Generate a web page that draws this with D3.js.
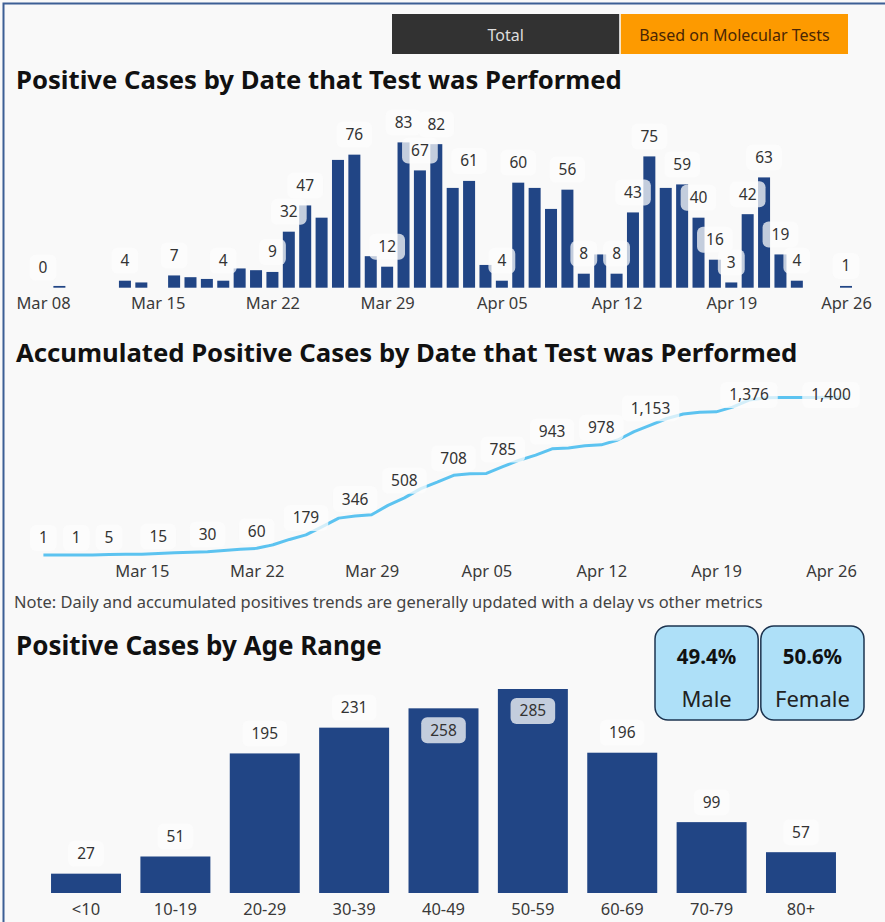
<!DOCTYPE html>
<html>
<head>
<meta charset="utf-8">
<script src="https://cdn.jsdelivr.net/npm/d3@7"></script>
<style>
  html, body { margin: 0; padding: 0; background: #f9f9f9; }
  svg { display: block; font-family: "Segoe UI", "Noto Sans", sans-serif; }
</style>
</head>
<body>
<div id="chart"></div>
<script>
// daily positives, one value per day starting at firstDay (Mar 08 .. Apr 27)
const firstDay = '2020-03-08';
const dailyCases = [
    0, 1, 0, 0, 0, 4, 3, 0, 7, 6, 5, 4, 11, 10, 9, 32, 47, 40, 73, 76, 18, 12, 83, 67,
    82, 57, 61, 13, 4, 60, 57, 45, 56, 8, 19, 8, 43, 75, 57, 59, 40, 16, 3, 42, 63, 19, 4, 0, 0, 1, 0,
];

// days whose value label is shown
const barLabelDays = [
    '2020-03-08', '2020-03-13', '2020-03-16', '2020-03-19', '2020-03-22', '2020-03-23', '2020-03-24',
    '2020-03-27', '2020-03-29', '2020-03-30', '2020-03-31', '2020-04-01', '2020-04-03', '2020-04-05',
    '2020-04-06', '2020-04-09', '2020-04-10', '2020-04-12', '2020-04-13', '2020-04-14', '2020-04-16',
    '2020-04-17', '2020-04-18', '2020-04-19', '2020-04-20', '2020-04-21', '2020-04-22', '2020-04-23',
    '2020-04-26',
];
const lineLabelDays = [
    '2020-03-09', '2020-03-11', '2020-03-13', '2020-03-16', '2020-03-19', '2020-03-22', '2020-03-25',
    '2020-03-28', '2020-03-31', '2020-04-03', '2020-04-06', '2020-04-09', '2020-04-12', '2020-04-15',
    '2020-04-21', '2020-04-26',
];

const ageRanges = ['<10', '10-19', '20-29', '30-39', '40-49', '50-59', '60-69', '70-79', '80+'];
const ageCases = [27, 51, 195, 231, 258, 285, 196, 99, 57];

const genders = ['Male', 'Female'];
const genderShares = ['49.4%', '50.6%'];

const buttons = ['Total', 'Based on Molecular Tests'];

const W = 885, H = 922;
const bg = '#f9f9f9';
const barColor = '#214585';
const lineColor = '#5cc3f0';
const textColor = '#333';
const labelSize = 15.5;
const tickSize = 16.5;

const parse = d3.timeParse('%Y-%m-%d');
const fmtTick = d3.timeFormat('%b %d');
const fmtNum = d3.format(',');

const start = parse(firstDay);
const days = dailyCases.map((v, i) => ({ date: d3.timeDay.offset(start, i), value: v }));
const cumul = d3.cumsum(dailyCases);
days.forEach((d, i) => (d.total = cumul[i]));
const key = d => d3.timeFormat('%Y-%m-%d')(d);

const svg = d3.select('#chart').append('svg').attr('width', W).attr('height', H);
svg.append('rect').attr('width', W).attr('height', H).attr('fill', bg);

// frame
svg.append('path')
    .attr('d', `M3.5,${H} V3.5 H${W}`)
    .attr('fill', 'none')
    .attr('stroke', '#3d5f95')
    .attr('stroke-width', 2);

// stretch a text node to a measured width
function fitWidth(sel, width) {
    const cur = sel.node().getComputedTextLength();
    const fs = parseFloat(sel.attr('font-size'));
    sel.attr('font-size', (fs * width) / cur);
}

function title(text, y, width) {
    const t = svg.append('text')
        .attr('x', 16)
        .attr('y', y)
        .attr('font-size', 22)
        .attr('font-weight', 700)
        .attr('fill', '#111')
        .text(text);
    fitWidth(t, width);
}

// value label with the light translucent box behind it
function valueLabel(g, x, y, text) {
    const lg = g.append('g').attr('transform', `translate(${x},${y})`);
    const rect = lg.append('rect');
    const t = lg.append('text')
        .attr('text-anchor', 'middle')
        .attr('dy', '0.35em')
        .attr('font-size', labelSize)
        .attr('fill', textColor)
        .text(text);
    const w = t.node().getComputedTextLength() + 18;
    rect.attr('x', -w / 2).attr('y', -13).attr('width', w).attr('height', 26)
        .attr('rx', 6)
        .attr('fill', '#fcfcfc')
        .attr('fill-opacity', 0.74);
}

function styleAxis(ax) {
    ax.attr('font-size', tickSize).attr('font-family', null);
    ax.select('.domain').remove();
    ax.selectAll('text').attr('fill', '#3a3a3a');
}

function renderButtons() {
    const x = d3.scaleBand().domain(buttons).range([392, 848]).paddingInner(0.007);
    const g = svg.append('g');
    g.selectAll('rect')
        .data(buttons)
        .join('rect')
        .attr('x', d => x(d))
        .attr('y', 14)
        .attr('width', x.bandwidth())
        .attr('height', 40)
        .attr('fill', (d, i) => (i === 0 ? '#323232' : '#fd9a00'));
    g.selectAll('text')
        .data(buttons)
        .join('text')
        .attr('x', d => x(d) + x.bandwidth() / 2)
        .attr('y', 35)
        .attr('dy', '0.35em')
        .attr('text-anchor', 'middle')
        .attr('font-size', 16)
        .attr('fill', (d, i) => (i === 0 ? '#ddd' : '#4a2604'))
        .text(d => d);
}

function renderDailyBars() {
    const x = d3.scaleTime().domain([parse('2020-03-08'), parse('2020-04-26')]).range([43, 846]);
    const y = d3.scaleLinear().domain([0, 83]).range([287.7, 142.4]);
    const g = svg.append('g');

    g.selectAll('.bar')
        .data(days.filter(d => d.value > 0))
        .join('rect')
        .attr('class', 'bar')
        .attr('x', d => x(d.date) - 6)
        .attr('width', 12)
        .attr('y', d => y(d.value))
        .attr('height', d => y(0) - y(d.value))
        .attr('fill', barColor);

    const shown = new Set(barLabelDays);
    days.filter(d => shown.has(key(d.date)))
        .forEach(d => valueLabel(g, x(d.date), y(d.value) - 20, fmtNum(d.value)));

    const axis = d3.axisBottom(x)
        .tickValues(d3.timeWeek.range(parse('2020-03-08'), parse('2020-04-27')))
        .tickFormat(fmtTick)
        .tickSize(0);
    styleAxis(g.append('g').attr('transform', 'translate(0,294)').call(axis));
}

function renderAccumulated() {
    const x = d3.scaleTime().domain([parse('2020-03-08'), parse('2020-04-26')]).range([27, 831]);
    const y = d3.scaleLinear().domain([0, 1400]).range([555.1, 397.3]);
    const g = svg.append('g');
    const data = days.slice(1);

    g.append('path')
        .datum(data)
        .attr('d', d3.line().x(d => x(d.date)).y(d => y(d.total)))
        .attr('fill', 'none')
        .attr('stroke', lineColor)
        .attr('stroke-width', 3)
        .attr('stroke-linejoin', 'round');

    const shown = new Set(lineLabelDays);
    data.filter(d => shown.has(key(d.date)))
        .forEach(d => valueLabel(g, x(d.date), Math.max(y(d.total) - 17, 395), fmtNum(d.total)));

    const axis = d3.axisBottom(x)
        .tickValues(d3.timeWeek.range(parse('2020-03-15'), parse('2020-04-27')))
        .tickFormat(fmtTick)
        .tickSize(0);
    styleAxis(g.append('g').attr('transform', 'translate(0,562)').call(axis));

    const note = svg.append('text')
        .attr('x', 14)
        .attr('y', 608)
        .attr('font-size', 14)
        .attr('fill', '#444')
        .text('Note: Daily and accumulated positives trends are generally updated with a delay vs other metrics');
    fitWidth(note, 749);
}

function renderAges() {
    const x = d3.scaleBand().domain(ageRanges).range([41.2, 845.8]).paddingInner(0.217).paddingOuter(0.11);
    const y = d3.scaleLinear().domain([0, 285]).range([893, 689]);
    const g = svg.append('g');
    const data = ageRanges.map((a, i) => ({ age: a, value: ageCases[i] }));
    const max = d3.max(ageCases);

    g.selectAll('rect')
        .data(data)
        .join('rect')
        .attr('x', d => x(d.age))
        .attr('width', x.bandwidth())
        .attr('y', d => y(d.value))
        .attr('height', d => y(0) - y(d.value))
        .attr('fill', barColor);

    data.forEach(d => {
        const inside = d.value / max > 0.9;
        valueLabel(g, x(d.age) + x.bandwidth() / 2, y(d.value) + (inside ? 22 : -20), fmtNum(d.value));
    });

    styleAxis(g.append('g')
        .attr('transform', 'translate(0,900)')
        .call(d3.axisBottom(x).tickSize(0)));
}

function renderGenderCards() {
    const x = d3.scaleBand().domain(genders).range([655, 864]).paddingInner(0.025);
    const cards = svg.selectAll('.card')
        .data(genders)
        .join('g')
        .attr('class', 'card')
        .attr('transform', d => `translate(${x(d)},626)`);
    cards.append('rect')
        .attr('width', x.bandwidth())
        .attr('height', 94)
        .attr('rx', 13)
        .attr('fill', '#aee0f8')
        .attr('stroke', '#1d3450')
        .attr('stroke-width', 1.5);
    cards.append('text')
        .attr('x', x.bandwidth() / 2)
        .attr('y', 31)
        .attr('dy', '0.35em')
        .attr('text-anchor', 'middle')
        .attr('font-size', 20.5)
        .attr('font-weight', 700)
        .attr('fill', '#111')
        .text((d, i) => genderShares[i]);
    cards.append('text')
        .attr('x', x.bandwidth() / 2)
        .attr('y', 73)
        .attr('dy', '0.35em')
        .attr('text-anchor', 'middle')
        .attr('font-size', 22)
        .attr('fill', '#222')
        .text(d => d);
}

renderButtons();
title('Positive Cases by Date that Test was Performed', 89, 606);
renderDailyBars();
title('Accumulated Positive Cases by Date that Test was Performed', 362, 782);
renderAccumulated();
title('Positive Cases by Age Range', 655, 366);
renderAges();
renderGenderCards();
</script>
</body>
</html>
